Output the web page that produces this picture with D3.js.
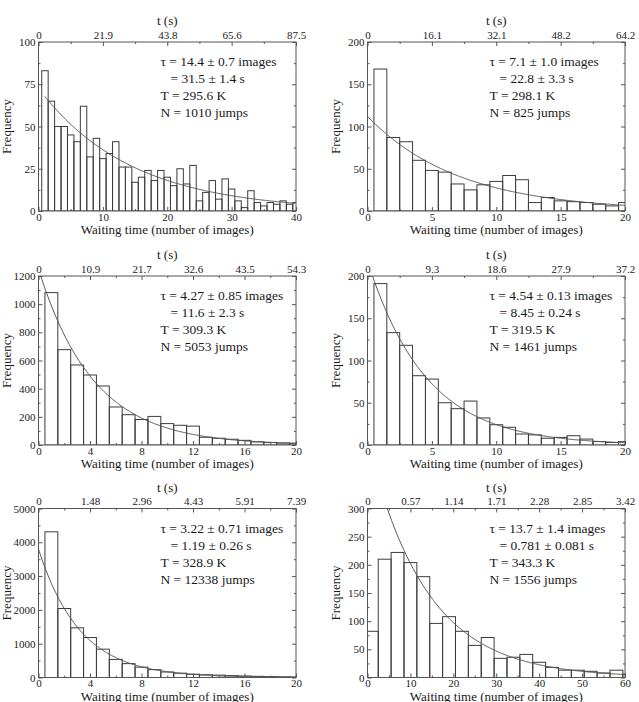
<!DOCTYPE html>
<html>
<head>
<meta charset="utf-8">
<style>
body { margin: 0; background: #fff; }
svg text { font-family: "Liberation Serif", "Times New Roman", serif; fill: #1a1a1a; }
.axis text { font-family: "Liberation Serif", "Times New Roman", serif; font-size: 11px; }
</style>
</head>
<body>
<svg width="639" height="702"></svg>
<script src="https://cdn.jsdelivr.net/npm/d3@7"></script>
<script>

// bin centres, number of images
var bins40 = [1,2,3,4,5,6,7,8,9,10,11,12,13,14,15,16,17,18,19,20,21,22,23,24,25,26,27,28,29,30,31,32,33,34,35,36,37,38,39,40];
var bins20 = [1,2,3,4,5,6,7,8,9,10,11,12,13,14,15,16,17,18,19,20];
var bins60 = [1,4,7,10,13,16,19,22,25,28,31,34,37,40,43,46,49,52,55,58,61];

// counts
var counts1 = [83,65,50,50,45,41,62,32,43,31,34,41,26,26,17,20,24,18,24,20,
               15,25,16,27,6,11,18,7,19,13,6,2,12,5,3,5,4,6,4,5];
var counts2 = [168,87,82,60,48,46,32,25,31,35,42,37,10,16,12,11,10,8,6,10];
var counts3 = [1082,677,568,497,419,270,215,181,203,152,140,134,55,48,41,33,22,18,14,12];
var counts4 = [191,133,118,82,78,50,43,52,32,24,21,13,12,8,9,11,7,4,3,4];
var counts5 = [4310,2041,1470,1183,838,535,410,306,232,163,128,98,80,70,55,45,35,25,20,15];
var counts6 = [82,210,222,204,179,96,108,82,57,71,34,36,41,27,18,13,13,11,8,13,6];

// top axis labels, t (s)
var top1 = ["0","21.9","43.8","65.6","87.5"];
var top2 = ["0","16.1","32.1","48.2","64.2"];
var top3 = ["0","10.9","21.7","32.6","43.5","54.3"];
var top4 = ["0","9.3","18.6","27.9","37.2"];
var top5 = ["0","1.48","2.96","4.43","5.91","7.39"];
var top6 = ["0","0.57","1.14","1.71","2.28","2.85","3.42"];

var notes1 = ["\u03c4 = 14.4 \u00b1 0.7 images", "= 31.5 \u00b1 1.4 s", "T = 295.6 K", "N = 1010 jumps"];
var notes2 = ["\u03c4 = 7.1 \u00b1 1.0 images", "= 22.8 \u00b1 3.3 s", "T = 298.1 K", "N = 825 jumps"];
var notes3 = ["\u03c4 = 4.27 \u00b1 0.85 images", "= 11.6 \u00b1 2.3 s", "T = 309.3 K", "N = 5053 jumps"];
var notes4 = ["\u03c4 = 4.54 \u00b1 0.13 images", "= 8.45 \u00b1 0.24 s", "T = 319.5 K", "N = 1461 jumps"];
var notes5 = ["\u03c4 = 3.22 \u00b1 0.71 images", "= 1.19 \u00b1 0.26 s", "T = 328.9 K", "N = 12338 jumps"];
var notes6 = ["\u03c4 = 13.7 \u00b1 1.4 images", "= 0.781 \u00b1 0.081 s", "T = 343.3 K", "N = 1556 jumps"];

// exponential fits A*exp(-x/tau)
var fitAmp = [72.6, 112, 1250, 218, 3800, 420];
var fitTau = [14.4, 7.1, 4.27, 4.54, 3.22, 13.7];
var fitFrom = [1, 0, 0, 0, 0, 0];

var panels = [
  {bins: bins40, counts: counts1, bw: 1, xMax: 40, xStep: 10, yMax: 100, yStep: 25, top: top1, notes: notes1},
  {bins: bins20, counts: counts2, bw: 1, xMax: 20, xStep: 5, yMax: 200, yStep: 50, top: top2, notes: notes2},
  {bins: bins20, counts: counts3, bw: 1, xMax: 20, xStep: 4, yMax: 1200, yStep: 200, top: top3, notes: notes3},
  {bins: bins20, counts: counts4, bw: 1, xMax: 20, xStep: 5, yMax: 200, yStep: 50, top: top4, notes: notes4},
  {bins: bins20, counts: counts5, bw: 1, xMax: 20, xStep: 4, yMax: 5000, yStep: 1000, top: top5, notes: notes5},
  {bins: bins60, counts: counts6, bw: 3, xMax: 60, xStep: 10, yMax: 300, yStep: 50, top: top6, notes: notes6}
];

var svg = d3.select("svg"),
    colX = [38.5, 367.5],
    rowY = [42, 276, 508.5],
    w = 257.5,
    h = 169;

var defs = svg.append("defs");

panels.forEach(function(p, i) {
  var g = svg.append("g")
      .attr("transform", "translate(" + colX[i % 2] + "," + rowY[Math.floor(i / 2)] + ")");

  var x = d3.scaleLinear().domain([0, p.xMax]).range([0, w]);
  var y = d3.scaleLinear().domain([0, p.yMax]).range([h, 0]);

  var xMajor = d3.range(0, p.xMax + 1e-9, p.xStep),
      xMinor = d3.range(p.xStep / 2, p.xMax, p.xStep),
      yMajor = d3.range(0, p.yMax + 1e-9, p.yStep),
      yMinor = d3.range(p.yStep / 2, p.yMax, p.yStep);

  defs.append("clipPath").attr("id", "clip" + i)
    .append("rect").attr("width", w).attr("height", h);

  var plot = g.append("g").attr("clip-path", "url(#clip" + i + ")");

  plot.selectAll("rect")
    .data(p.counts)
    .join("rect")
      .attr("x", function(d, j) { return x(p.bins[j] - p.bw / 2); })
      .attr("width", function(d, j) { return x(p.bins[j] + p.bw / 2) - x(p.bins[j] - p.bw / 2); })
      .attr("y", function(d) { return y(d); })
      .attr("height", function(d) { return h - y(d); })
      .attr("fill", "none")
      .attr("stroke", "#3c3c3c")
      .attr("stroke-width", 1);

  // fit curve
  var xs = d3.range(fitFrom[i], p.xMax + 1e-9, p.xMax / 300);
  plot.append("path")
      .datum(xs)
      .attr("fill", "none")
      .attr("stroke", "#555")
      .attr("stroke-width", 1)
      .attr("d", d3.line()
        .x(function(d) { return x(d); })
        .y(function(d) { return y(fitAmp[i] * Math.exp(-d / fitTau[i])); }));

  g.append("rect")
      .attr("width", w).attr("height", h)
      .attr("fill", "none").attr("stroke", "#555").attr("stroke-width", 1);

  function axis(a, vals, size, fmt, pad) {
    return a.tickValues(vals).tickSizeInner(-size).tickSizeOuter(0).tickPadding(pad).tickFormat(fmt);
  }
  var none = function() { return ""; };

  // bottom
  var gb = g.append("g").attr("class", "axis").attr("color", "#555")
      .attr("transform", "translate(0," + h + ")");
  gb.call(axis(d3.axisBottom(x), xMajor, 4, d3.format("d"), 2));
  gb.append("g").call(axis(d3.axisBottom(x), xMinor, 2, none, 2));

  // top
  var gt = g.append("g").attr("class", "axis").attr("color", "#555");
  gt.call(axis(d3.axisTop(x), xMajor, 4, function(d, j) { return p.top[j]; }, 3.5));
  gt.append("g").call(axis(d3.axisTop(x), xMinor, 2, none, 3));

  // left
  var gl = g.append("g").attr("class", "axis").attr("color", "#555");
  gl.call(axis(d3.axisLeft(y), yMajor, 4, d3.format("d"), 3));
  gl.append("g").call(axis(d3.axisLeft(y), yMinor, 2, none, 3));

  // right
  var gr = g.append("g").attr("class", "axis").attr("color", "#555")
      .attr("transform", "translate(" + w + ",0)");
  gr.call(axis(d3.axisRight(y), yMajor, 4, none, 3));
  gr.append("g").call(axis(d3.axisRight(y), yMinor, 2, none, 3));

  g.selectAll(".axis .domain").remove();
  g.selectAll(".axis text").attr("fill", "#1a1a1a");

  // titles
  g.append("text")
      .attr("x", w / 2).attr("y", -17)
      .attr("text-anchor", "middle")
      .attr("font-size", 13)
      .text("t (s)");

  g.append("text")
      .attr("x", w / 2).attr("y", h + 23)
      .attr("text-anchor", "middle")
      .attr("font-size", 13)
      .text("Waiting time (number of images)");

  g.append("text")
      .attr("transform", "translate(-28," + (h / 2) + ") rotate(-90)")
      .attr("text-anchor", "middle")
      .attr("font-size", 13)
      .text("Frequency");

  // fit annotation
  g.selectAll(".note")
    .data(p.notes)
    .join("text")
      .attr("class", "note")
      .attr("x", function(d, j) { return j === 1 ? 132 : 122; })
      .attr("y", function(d, j) { return 24 + 17 * j; })
      .attr("font-size", 13.5)
      .text(function(d) { return d; });
});

</script>
</body>
</html>
